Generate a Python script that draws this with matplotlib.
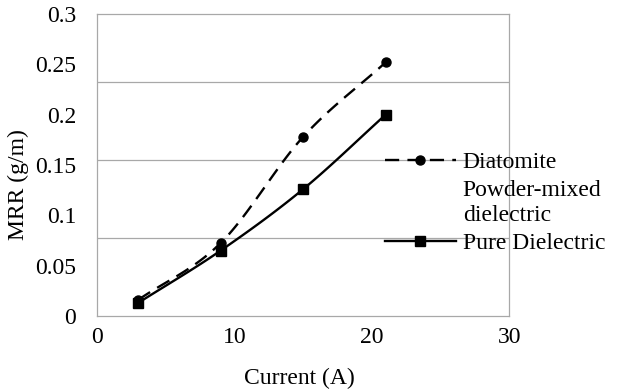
import numpy as np
import matplotlib
matplotlib.use("Agg")
import matplotlib.pyplot as plt
from matplotlib.lines import Line2D

current = [3, 9, 15, 21]
mrr_diatomite = [0.016, 0.0725, 0.178, 0.252]
mrr_pure = [0.013, 0.065, 0.126, 0.200]
x_ticks = [0, 10, 20, 30]
y_ticks = [0, 0.05, 0.1, 0.15, 0.2, 0.25, 0.3]
y_tick_labels = ["0", "0.05", "0.1", "0.15", "0.2", "0.25", "0.3"]
grid_levels = [0.0775, 0.155, 0.2325]
labels = ["Diatomite", "Powder-mixed\ndielectric", "Pure Dielectric"]


def smooth(x, y, n=30):
    # catmull-rom through the data points, like excel's smoothed line
    x = np.asarray(x, float)
    y = np.asarray(y, float)
    px = np.concatenate([[2 * x[0] - x[1]], x, [2 * x[-1] - x[-2]]])
    py = np.concatenate([[2 * y[0] - y[1]], y, [2 * y[-1] - y[-2]]])
    xs, ys = [], []
    t = np.linspace(0, 1, n)
    for i in range(1, len(px) - 2):
        for p, out in ((px, xs), (py, ys)):
            p0, p1, p2, p3 = p[i - 1], p[i], p[i + 1], p[i + 2]
            out.extend(0.5 * ((2 * p1) + (-p0 + p2) * t
                              + (2 * p0 - 5 * p1 + 4 * p2 - p3) * t ** 2
                              + (-p0 + 3 * p1 - 3 * p2 + p3) * t ** 3))
    return xs, ys


plt.rcParams["font.family"] = ["Liberation Serif", "DejaVu Serif"]
fs = 17
fig = plt.figure(figsize=(6.18, 3.92), dpi=100)
ax = fig.add_axes([0.157, 0.194, 0.667, 0.770])

dash = (0, (6, 3.5))
sx, sy = smooth(current, mrr_diatomite)
ax.plot(sx, sy, color="black", lw=1.7, linestyle=dash)
ax.plot(current, mrr_diatomite, "o", color="black", ms=6.5)
sx, sy = smooth(current, mrr_pure)
ax.plot(sx, sy, color="black", lw=1.7)
ax.plot(current, mrr_pure, "s", color="black", ms=6.5)

ax.set_xlim(0, 30)
ax.set_ylim(0, 0.3)
ax.set_xticks(x_ticks)
ax.set_yticks(y_ticks)
ax.set_yticklabels(y_tick_labels)
ax.set_yticks(grid_levels, minor=True)
ax.grid(True, which="minor", axis="y", color="#a8a8a8", lw=0.9)
ax.tick_params(axis="both", which="both", length=0, labelsize=fs)
ax.tick_params(axis="y", pad=15)
ax.tick_params(axis="x", pad=8)
for s in ax.spines.values():
    s.set_color("#a8a8a8")
    s.set_linewidth(0.9)

ax.set_xlabel("Current (A)", fontsize=fs)
ax.xaxis.set_label_coords(0.49, -0.172)
ax.set_ylabel("MRR (g/m)", fontsize=fs)
ax.yaxis.set_label_coords(-0.165, 0.434)

handles = [
    Line2D([], [], color="black", lw=1.7, linestyle=dash, marker="o", ms=6.5),
    Line2D([], [], color="none"),
    Line2D([], [], color="black", lw=1.7, marker="s", ms=6.5),
]
leg = ax.legend(handles, labels, loc="upper left", bbox_to_anchor=(0.675, 0.575),
                frameon=False, fontsize=fs, handlelength=3.0,
                handletextpad=0.3, labelspacing=0.3, borderaxespad=0)

fig.savefig("out.png", dpi=100)
